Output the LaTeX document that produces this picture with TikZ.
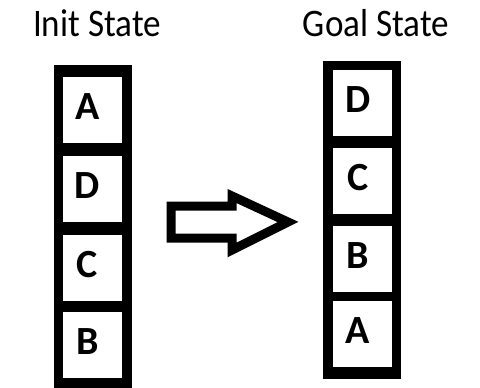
\documentclass[tikz,border=0pt]{standalone}
\usepackage{fontspec}
\setmainfont{Carlito}
\begin{document}
\begin{tikzpicture}[x=1pt,y=-1pt,
  cell/.style={draw=none,fill=white,rectangle,inner sep=0pt,minimum width=59pt,minimum height=66pt},
  letter/.style={inner sep=0pt,font=\fontsize{40}{40}\selectfont\bfseries},
  title/.style={inner sep=0pt,anchor=base,font=\fontsize{39}{39}\selectfont,xscale=0.9},
  frame/.style={fill=black},
  bigarrow/.style={draw=black,line width=9pt,line join=miter,fill=white}]
\useasboundingbox (0,0) rectangle (480,388);
\clip (0,0) rectangle (480,388);
\fill[white] (0,0) rectangle (480,388);
% titles
\node[title] (tInit) at (97,37) {Init State};
\node[title] (tGoal) at (376,36) {Goal State};
% left stack
\fill[frame] (54,65) rectangle (132,400);
\node[cell] (L1) at (92.5,110) {};
\node[cell] (L2) at (92.5,188.5) {};
\node[cell] (L3) at (92.5,268) {};
\node[cell] (L4) at (92.5,345) {};
\node[letter] at ([shift={(-5,-3)}]L1.center) {A};
\node[letter] at ([shift={(-5,-3)}]L2.center) {D};
\node[letter] at ([shift={(-5,-3)}]L3.center) {C};
\node[letter] at ([shift={(-5,-3)}]L4.center) {B};
% right stack
\fill[frame] (323,61) rectangle (401,379);
\node[cell] (R1) at (362,102.5) {};
\node[cell] (R2) at (362,181) {};
\node[cell] (R3) at (362,259) {};
\node[cell] (R4) at (362,334) {};
\node[letter] at ([shift={(-4,-3)}]R1.center) {D};
\node[letter] at ([shift={(-4,-3)}]R2.center) {C};
\node[letter] at ([shift={(-4,-3)}]R3.center) {B};
\node[letter] at ([shift={(-4,-3)}]R4.center) {A};
% arrow
\draw[bigarrow] (171,206) -- (232,206) -- (232,196) -- (288,222) -- (232,250) -- (232,238) -- (171,238) -- cycle;
\end{tikzpicture}
\end{document}
